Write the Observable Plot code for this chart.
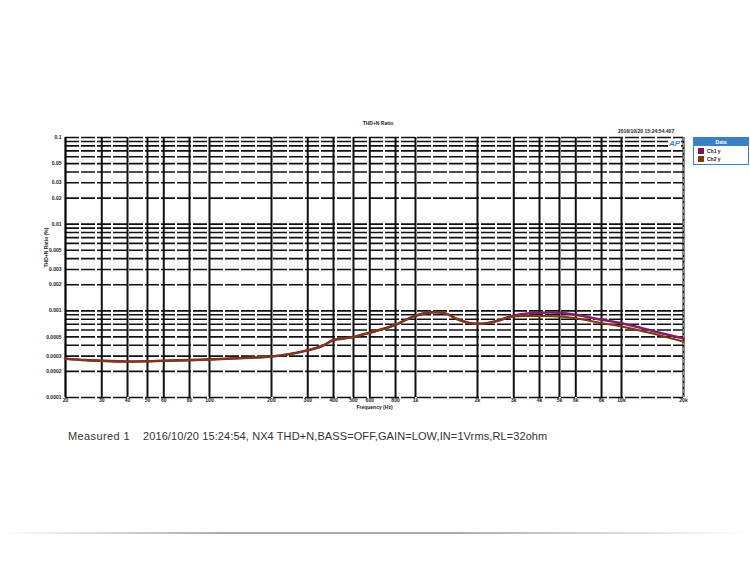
<!DOCTYPE html>
<html><head><meta charset="utf-8">
<script src="https://cdn.jsdelivr.net/npm/d3@7"></script>
<script src="https://cdn.jsdelivr.net/npm/@observablehq/plot@0.6"></script>
<style>
body{margin:0;background:#fff;font-family:"Liberation Sans",Arial,sans-serif;}
#page{position:relative;width:750px;height:563px;overflow:hidden;background:#fff;}
#chart{position:absolute;left:0;top:0;}
.t{position:absolute;white-space:nowrap;}
</style></head>
<body><div id="page">
<div id="chart"></div>
<div class="t" style="left:340px;top:120px;width:76px;text-align:center;font-size:5px;font-weight:bold;color:#222;">THD+N Ratio</div>
<div class="t" style="left:618px;top:128px;font-size:5px;font-weight:bold;color:#222;">2016/10/20 15:24:54.407</div>
<div class="t" style="left:668px;top:139px;font-size:8px;font-style:italic;font-weight:bold;color:#3a7fc9;background:#fff;padding:0 1px;">AP</div>
<div class="t" id="legend" style="left:693px;top:137px;width:56px;height:28px;border:1px solid #3b7fc4;box-sizing:border-box;background:#fff;font-size:5px;font-weight:bold;color:#222;">
  <div style="background:#3b7fc4;color:#fff;text-align:center;height:8px;line-height:8px;">Data</div>
  <div style="position:absolute;left:4px;top:10px;width:6px;height:6px;background:#7d1060;"></div>
  <div style="position:absolute;left:13px;top:10px;line-height:6px;">Ch1 y</div>
  <div style="position:absolute;left:4px;top:18px;width:6px;height:6px;background:#7a3d0c;"></div>
  <div style="position:absolute;left:13px;top:18px;line-height:6px;">Ch2 y</div>
</div>
<div class="t" style="left:68px;top:430px;font-size:11px;color:#333;letter-spacing:0.4px;">Measured 1</div>
<div class="t" style="left:143px;top:430px;font-size:11px;color:#333;letter-spacing:0.1px;">2016/10/20 15:24:54, NX4 THD+N,BASS=OFF,GAIN=LOW,IN=1Vrms,RL=32ohm</div>
<div style="position:absolute;left:0;top:532px;width:750px;height:2px;background:linear-gradient(to right,rgba(160,160,160,0),#aaa 30%,#aaa 60%,rgba(160,160,160,0));"></div>
</div>
<script>
const freqs = [20, 25, 30, 40, 50, 60, 80, 100, 130, 160, 200, 250, 300, 350, 400, 450, 500, 600, 700, 800, 1000, 1200, 1400, 1600, 1800, 2000, 2200, 2500, 3000, 3500, 4000, 5000, 6000, 8000, 10000, 14000, 20000];
const ch1 = [2.8e-4, 2.7e-4, 2.65e-4, 2.6e-4, 2.62e-4, 2.66e-4, 2.7e-4, 2.75e-4, 2.82e-4, 2.88e-4, 2.97e-4, 3.2e-4, 3.5e-4, 3.9e-4, 4.6e-4, 4.8e-4, 5.0e-4, 5.6e-4, 6.2e-4, 6.9e-4, 8.8e-4, 9.6e-4, 9.3e-4, 8.0e-4, 7.3e-4, 7.1e-4, 7.2e-4, 7.7e-4, 8.8e-4, 9.3e-4, 9.5e-4, 9.5e-4, 9.0e-4, 7.9e-4, 7.2e-4, 5.9e-4, 4.8e-4];
const ch2 = [2.8e-4, 2.7e-4, 2.65e-4, 2.6e-4, 2.62e-4, 2.66e-4, 2.7e-4, 2.75e-4, 2.82e-4, 2.88e-4, 2.97e-4, 3.2e-4, 3.5e-4, 3.9e-4, 4.6e-4, 4.8e-4, 5.0e-4, 5.6e-4, 6.2e-4, 6.9e-4, 8.8e-4, 9.6e-4, 9.3e-4, 8.0e-4, 7.3e-4, 7.1e-4, 7.2e-4, 7.7e-4, 8.6e-4, 8.7e-4, 8.7e-4, 8.6e-4, 8.2e-4, 7.2e-4, 6.6e-4, 5.5e-4, 4.4e-4];
const xTicks = [20, 30, 40, 50, 60, 80, 100, 200, 300, 400, 500, 600, 800, 1000, 2000, 3000, 4000, 5000, 6000, 8000, 10000, 20000];
const xTickLabels = ["20","30","40","50","60","80","100","200","300","400","500","600","800","1k","2k","3k","4k","5k","6k","8k","10k","20k"];
const yTicks = [0.1, 0.05, 0.03, 0.02, 0.01, 0.005, 0.003, 0.002, 0.001, 0.0005, 0.0003, 0.0002, 0.0001];
const yTickLabels = ["0.1","0.05","0.03","0.02","0.01","0.005","0.003","0.002","0.001","0.0005","0.0003","0.0002","0.0001"];
const yGrid = [0.0001,0.0002,0.0003,0.0004,0.0005,0.0006,0.0007,0.0008,0.0009,0.001,0.002,0.003,0.004,0.005,0.006,0.007,0.008,0.009,0.01,0.02,0.03,0.04,0.05,0.06,0.07,0.08,0.09,0.1];
const xTitle = "Frequency (Hz)";
const yTitle = "THD+N Ratio (%)";

const rows = freqs.map((f,i)=>({f, v: ch1[i], ch:"Ch1 y"}));
const rows2 = freqs.map((f,i)=>({f, v: ch2[i], ch:"Ch2 y"}));

const plot = Plot.plot({
  width: 750, height: 420,
  marginLeft: 65, marginRight: 67, marginTop: 137, marginBottom: 23,
  style: {fontFamily: "'Liberation Sans', Arial, sans-serif", fontSize: "5px", fontWeight: "bold", color: "#222", background: "transparent"},
  x: {type: "log", domain: [20, 20000], axis: null},
  y: {type: "log", domain: [0.0001, 0.1], axis: null},
  marks: [
    Plot.ruleY(yGrid, {stroke: "#111", strokeWidth: 1.6, strokeDasharray: "14,2"}),
    Plot.ruleX(xTicks, {stroke: "#111", strokeWidth: 2}),
    Plot.ruleX([20000], {stroke: "#888", strokeWidth: 1.5, strokeDasharray: "4,2"}),
    Plot.ruleX([20], {stroke: "#000", strokeWidth: 1.5}),
    Plot.line(rows, {x: "f", y: "v", stroke: "#8a1a6c", strokeWidth: 2.6, curve: "catmull-rom"}),
    Plot.line(rows2, {x: "f", y: "v", stroke: "#7a3d0c", strokeWidth: 2, curve: "catmull-rom"}),
    Plot.text(xTicks, {x: d => d, frameAnchor: "bottom", dy: 4, text: (d, i) => xTickLabels[i], fill: "#222"}),
    Plot.text(yTicks, {y: d => d, frameAnchor: "left", dx: -4, textAnchor: "end", text: (d, i) => yTickLabels[i], fill: "#222"}),
    Plot.text([xTitle], {frameAnchor: "bottom", dy: 11, text: d => d, fill: "#222"}),
    Plot.text([yTitle], {frameAnchor: "left", dx: -19, rotate: -90, text: d => d, fill: "#222"})
  ]
});
document.getElementById("chart").appendChild(plot);
</script>
</body></html>
